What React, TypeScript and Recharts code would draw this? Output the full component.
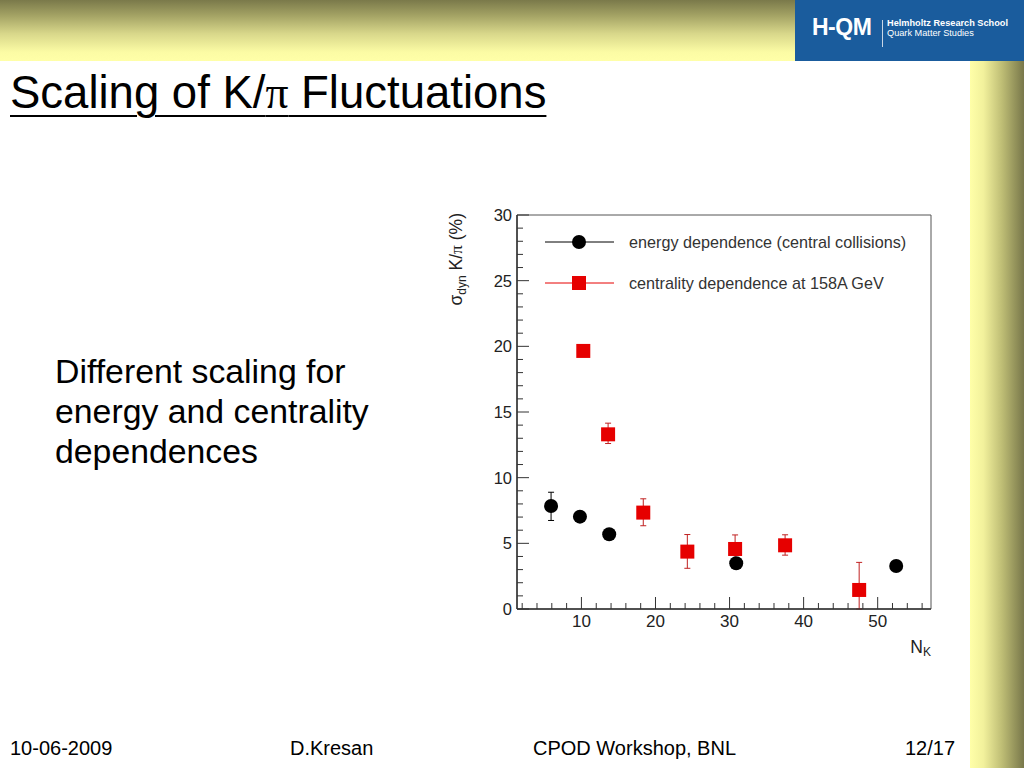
import React from "react";
import { ScatterChart, Scatter, XAxis, YAxis, ErrorBar, ReferenceArea, Legend } from "recharts";

// energy dependence (central collisions)
const energyNk = [5.9, 9.8, 13.75, 30.9, 52.5];
const energySigma = [7.84, 7.03, 5.69, 3.48, 3.27];
const energyErrLow = [1.1, 0, 0, 0, 0];
const energyErrHigh = [1.05, 0, 0, 0, 0];

// centrality dependence at 158A GeV
const centralityNk = [10.25, 13.6, 18.35, 24.3, 30.75, 37.5, 47.5];
const centralitySigma = [19.65, 13.3, 7.34, 4.37, 4.57, 4.85, 1.45];
const centralityErrLow = [0, 0.7, 1.0, 1.27, 1.0, 0.75, 1.45];
const centralityErrHigh = [0, 0.85, 1.05, 1.3, 1.07, 0.8, 2.1];

const seriesNames = ["energy dependence (central collisions)", "centrality dependence at 158A GeV"];

const xTicks = [2, 4, 6, 8, 10, 12, 14, 16, 18, 20, 22, 24, 26, 28, 30, 32, 34, 36, 38, 40, 42, 44, 46, 48, 50, 52, 54, 56];
const xMajor = [10, 20, 30, 40, 50];
const yTicks = [0, 1, 2, 3, 4, 5, 6, 7, 8, 9, 10, 11, 12, 13, 14, 15, 16, 17, 18, 19, 20, 21, 22, 23, 24, 25, 26, 27, 28, 29, 30];
const yMajor = [0, 5, 10, 15, 20, 25, 30];

const footer = ["10-06-2009", "D.Kresan", "CPOD Workshop, BNL", "12/17"];

const RED = "#e60000";
const AXIS = "#333";
const FONT = "'Liberation Sans', Arial, sans-serif";

const energyData = energyNk.map((x, i) => ({ x, y: energySigma[i], err: [energyErrLow[i], energyErrHigh[i]] }));
const centralityData = centralityNk.map((x, i) => ({ x, y: centralitySigma[i], err: [centralityErrLow[i], centralityErrHigh[i]] }));

const Dot = (p: any) => <circle cx={p.cx} cy={p.cy} r={7} fill="#000" />;
const Box = (p: any) => <rect x={p.cx - 7} y={p.cy - 7} width={14} height={14} fill={RED} />;

const XTick = ({ x, y, payload }: any) => {
    const major = xMajor.includes(payload.value);
    return (
        <g>
            <line x1={x} x2={x} y1={y} y2={y - (major ? 12 : 6)} stroke={AXIS} />
            {major && (
                <text x={x} y={y + 18} textAnchor="middle" fontSize={17} fill="#222" fontFamily={FONT}>
                    {payload.value}
                </text>
            )}
        </g>
    );
};

const YTick = ({ x, y, payload }: any) => {
    const major = yMajor.includes(payload.value);
    return (
        <g>
            <line x1={x} x2={x + (major ? 12 : 6)} y1={y} y2={y} stroke={AXIS} />
            {major && (
                <text x={x - 5} y={y} dy="0.36em" textAnchor="end" fontSize={16.5} fill="#222" fontFamily={FONT}>
                    {payload.value}
                </text>
            )}
        </g>
    );
};

const YLabel = (props: any) => {
    const vb = props.viewBox || { x: 37, y: 25 };
    const x = vb.x - 15;
    const y = vb.y - 2;
    return (
        <text transform={`translate(${x},${y}) rotate(-90)`} textAnchor="end" fontSize={17.5} fill="#222" fontFamily={FONT}>
            σ<tspan fontSize={12} dy={4}>dyn</tspan>
            <tspan dy={-4}> K/</tspan>
            <tspan fontFamily="'Liberation Serif', serif">π</tspan> (%)
        </text>
    );
};

const XLabel = (props: any) => {
    const vb = props.viewBox || { x: 77, y: 419, width: 414 };
    return (
        <text x={vb.x + vb.width} y={vb.y + 44} textAnchor="end" fontSize={17.5} fill="#222" fontFamily={FONT}>
            N<tspan fontSize={12} dy={3}>K</tspan>
        </text>
    );
};

const LegendBox = () => {
    const rows = [
        { y: 22, color: "#000", mark: <circle cx={39} cy={22} r={7} fill="#000" /> },
        { y: 63, color: RED, mark: <rect x={32} y={56} width={14} height={14} fill={RED} /> },
    ];
    return (
        <svg width={400} height={80}>
            {rows.map((r, i) => (
                <g key={i}>
                    <line x1={5} x2={74} y1={r.y} y2={r.y} stroke={r.color} strokeWidth={1} />
                    {r.mark}
                    <text x={89} y={r.y + 5.5} fontSize={16.2} fill="#333" fontFamily={FONT}>
                        {seriesNames[i]}
                    </text>
                </g>
            ))}
        </svg>
    );
};

const abs = (s: React.CSSProperties): React.CSSProperties => ({ position: "absolute", ...s });

export default function App() {
    return (
        <div style={abs({ left: 0, top: 0, width: 1024, height: 768, background: "#fff", overflow: "hidden", fontFamily: FONT })}>
            <div
                style={abs({
                    left: 0,
                    top: 0,
                    width: 1024,
                    height: 61,
                    background: "linear-gradient(to bottom, #7a794a 0%, #a3a264 25%, #d8d78a 55%, #fbfba4 85%, #ffffa8 100%)",
                })}
            />
            <div style={abs({ left: 795, top: 0, width: 229, height: 61, background: "#1a5c9d", color: "#fff" })}>
                <div style={abs({ left: 17, top: 16, fontSize: 23, fontWeight: "bold", lineHeight: "23px", letterSpacing: -0.5 })}>H-QM</div>
                <div style={abs({ left: 87, top: 20, width: 1, height: 27, background: "#c9d6e6" })} />
                <div style={abs({ left: 92, top: 18, fontSize: 9.2, fontWeight: "bold", lineHeight: "10px", whiteSpace: "nowrap" })}>
                    Helmholtz Research School
                </div>
                <div style={abs({ left: 92, top: 28, fontSize: 9.2, lineHeight: "10px", whiteSpace: "nowrap" })}>Quark Matter Studies</div>
            </div>
            <div
                style={abs({
                    left: 970,
                    top: 61,
                    width: 54,
                    height: 707,
                    background: "linear-gradient(to right, #ffffa8 0%, #f2f19c 25%, #bdbc74 60%, #78774a 100%)",
                })}
            />
            <div
                style={abs({
                    left: 10,
                    top: 70,
                    fontSize: 45.5,
                    lineHeight: "45px",
                    whiteSpace: "nowrap",
                    textDecoration: "underline",
                    textDecorationThickness: "2px",
                    textUnderlineOffset: "7px",
                })}
            >
                Scaling of K/<span style={{ fontFamily: "'Liberation Serif', serif" }}>π</span> Fluctuations
            </div>
            <div style={abs({ left: 55, top: 351, fontSize: 33.8, lineHeight: "40px", whiteSpace: "nowrap" })}>
                Different scaling for
                <br />
                energy and centrality
                <br />
                dependences
            </div>
            {footer.map((t, i) => (
                <div key={t} style={abs({ left: [10, 290, 533, 905][i], top: 736, fontSize: 20, lineHeight: "24px", whiteSpace: "nowrap" })}>
                    {t}
                </div>
            ))}
            <div style={abs({ left: 440, top: 190, width: 520, height: 480 })}>
                <ScatterChart width={520} height={480} margin={{ top: 25, right: 29, bottom: 21, left: 37 }}>
                    <XAxis
                        type="number"
                        dataKey="x"
                        domain={[1.3, 57.2]}
                        allowDataOverflow
                        ticks={xTicks}
                        interval={0}
                        tick={<XTick />}
                        tickLine={false}
                        tickSize={0}
                        tickMargin={0}
                        axisLine={{ stroke: AXIS, strokeWidth: 1.5 }}
                        height={40}
                        label={<XLabel />}
                    />
                    <YAxis
                        type="number"
                        dataKey="y"
                        domain={[0, 30]}
                        allowDataOverflow
                        ticks={yTicks}
                        interval={0}
                        tick={<YTick />}
                        tickLine={false}
                        tickSize={0}
                        tickMargin={0}
                        axisLine={{ stroke: AXIS, strokeWidth: 1.5 }}
                        width={40}
                        label={<YLabel />}
                    />
                    <ReferenceArea x1={1.3} x2={57.2} y1={0} y2={30} fill="none" stroke="#555" strokeWidth={1} />
                    <Legend
                        layout="vertical"
                        align="center"
                        verticalAlign="middle"
                        content={<LegendBox />}
                        wrapperStyle={{ left: 100, top: 30, width: 400, height: 80 }}
                    />
                    <Scatter name={seriesNames[0]} data={energyData} shape={<Dot />} isAnimationActive={false}>
                        <ErrorBar dataKey="err" direction="y" width={3} stroke="#000" strokeWidth={1} />
                    </Scatter>
                    <Scatter name={seriesNames[1]} data={centralityData} shape={<Box />} isAnimationActive={false}>
                        <ErrorBar dataKey="err" direction="y" width={3} stroke="#c02020" strokeWidth={1} />
                    </Scatter>
                </ScatterChart>
            </div>
        </div>
    );
}
